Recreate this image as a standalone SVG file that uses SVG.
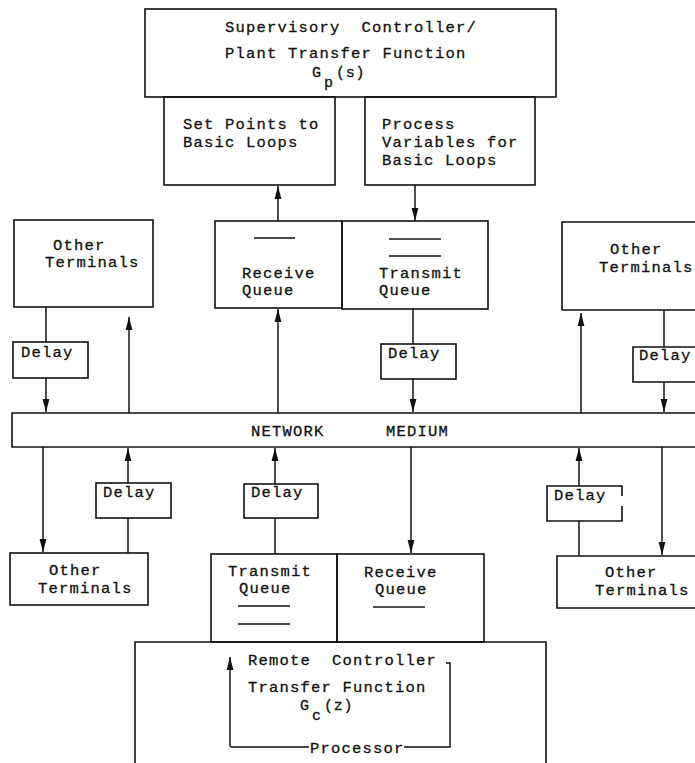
<svg xmlns="http://www.w3.org/2000/svg" width="695" height="763" viewBox="0 0 695 763">
<style>
.b{fill:none;stroke:#111;stroke-width:1.6}
.t{font-family:"Liberation Mono","Courier New",monospace;font-size:15.5px;letter-spacing:1.2px;fill:#111;stroke:#111;stroke-width:0.3}
.s{font-size:15px;letter-spacing:0.8px}
.c{fill:none;stroke:#111;stroke-width:1.5}
.a{marker-end:url(#ah)}
</style>
<defs>
<marker id="ah" markerUnits="userSpaceOnUse" markerWidth="14" markerHeight="8" viewBox="0 0 14 8" refX="13" refY="4" orient="auto">
<path d="M0,0.6 L13,4 L0,7.4 Z" fill="#111"/>
</marker>
</defs>
<rect width="695" height="763" fill="#fff"/>

<g id="supervisory">
<rect class="b" x="145" y="9" width="411" height="88"/>
<text class="t" x="225" y="32" xml:space="preserve">Supervisory  Controller/</text>
<text class="t" x="225" y="58">Plant Transfer Function</text>
<text class="t s" x="312" y="77">G</text>
<text class="t s" x="324" y="87">p</text>
<text class="t s" x="336" y="77">(s)</text>
</g>
<g id="setpoints">
<rect class="b" x="164" y="97" width="171" height="88"/>
<text class="t" x="183" y="129">Set Points to</text>
<text class="t" x="183" y="147">Basic Loops</text>
</g>
<g id="processvars">
<rect class="b" x="365" y="97" width="170" height="88"/>
<text class="t" x="382" y="129">Process</text>
<text class="t" x="382" y="147">Variables for</text>
<text class="t" x="382" y="165">Basic Loops</text>
</g>

<g id="other-ul">
<rect class="b" x="14" y="220" width="139" height="87"/>
<text class="t" x="53" y="250">Other</text>
<text class="t" x="45" y="267">Terminals</text>
</g>
<g id="receive-upper">
<rect class="b" x="215" y="221" width="127" height="87"/>
<line class="c" x1="254" y1="238" x2="295" y2="238"/>
<text class="t" x="242" y="278">Receive</text>
<text class="t" x="242" y="295">Queue</text>
</g>
<g id="transmit-upper">
<rect class="b" x="342" y="221" width="146" height="88"/>
<line class="c" x1="389" y1="239" x2="441" y2="239"/>
<line class="c" x1="389" y1="256" x2="441" y2="256"/>
<text class="t" x="379" y="278">Transmit</text>
<text class="t" x="379" y="295">Queue</text>
</g>
<g id="other-ur">
<path class="b" d="M700,222 L562,222 L562,310 L700,310"/>
<text class="t" x="610" y="254">Other</text>
<text class="t" x="599" y="272">Terminals</text>
</g>
<g id="delay-ul">
<rect class="b" x="13" y="342" width="75" height="36"/>
<text class="t" x="21" y="357">Delay</text>
</g>
<g id="delay-um">
<rect class="b" x="381" y="344" width="75" height="35"/>
<text class="t" x="388" y="358">Delay</text>
</g>
<g id="delay-ur">
<path class="b" d="M700,347 L633,347 L633,382 L700,382"/>
<text class="t" x="639" y="360">Delay</text>
</g>

<g id="network">
<path class="b" d="M700,413 L12,413 L12,447 L700,447"/>
<text class="t" x="251" y="436">NETWORK</text>
<text class="t" x="386" y="436">MEDIUM</text>
</g>

<g id="delay-ll">
<rect class="b" x="96" y="483" width="75" height="35"/>
<text class="t" x="103" y="497">Delay</text>
</g>
<g id="delay-lm">
<rect class="b" x="244" y="484" width="74" height="34"/>
<text class="t" x="251" y="497">Delay</text>
</g>
<g id="delay-lr">
<path class="b" d="M622,496 L622,486 L547,486 L547,521 L622,521 L622,506"/>
<text class="t" x="554" y="500">Delay</text>
</g>
<g id="other-ll">
<rect class="b" x="10" y="553" width="138" height="52"/>
<text class="t" x="49" y="575">Other</text>
<text class="t" x="38" y="593">Terminals</text>
</g>
<g id="transmit-lower">
<rect class="b" x="211" y="554" width="126" height="88"/>
<text class="t" x="228" y="576">Transmit</text>
<text class="t" x="239" y="593">Queue</text>
<line class="c" x1="238" y1="606" x2="290" y2="606"/>
<line class="c" x1="238" y1="624" x2="290" y2="624"/>
</g>
<g id="receive-lower">
<rect class="b" x="337" y="554" width="147" height="88"/>
<text class="t" x="364" y="577">Receive</text>
<text class="t" x="375" y="594">Queue</text>
<line class="c" x1="373" y1="607" x2="425" y2="607"/>
</g>
<g id="other-lr">
<path class="b" d="M700,556 L557,556 L557,608 L700,608"/>
<text class="t" x="605" y="577">Other</text>
<text class="t" x="595" y="595">Terminals</text>
</g>

<g id="processor">
<path class="b" d="M135,770 L135,642 L546,642 L546,770"/>
<text class="t" x="248" y="665" xml:space="preserve">Remote  Controller</text>
<text class="t" x="248" y="692">Transfer Function</text>
<text class="t s" x="300" y="710">G</text>
<text class="t s" x="312" y="720">c</text>
<text class="t s" x="324" y="710">(z)</text>
<text class="t" x="310" y="753">Processor</text>
<path class="c" d="M446,663 L450,663 L450,747 L404,747"/>
<path class="c a" d="M309,747 L232,747 Q230,747 230,745 L230,657"/>
</g>

<g id="connectors">
<line class="c a" x1="278" y1="221" x2="278" y2="186"/>
<line class="c a" x1="415" y1="185" x2="415" y2="221"/>
<line class="c" x1="46" y1="307" x2="46" y2="342"/>
<line class="c a" x1="46" y1="378" x2="46" y2="412"/>
<line class="c a" x1="129" y1="413" x2="129" y2="317"/>
<line class="c a" x1="278" y1="413" x2="278" y2="309"/>
<line class="c" x1="413" y1="309" x2="413" y2="344"/>
<line class="c a" x1="413" y1="379" x2="413" y2="412"/>
<line class="c a" x1="581" y1="413" x2="581" y2="313"/>
<line class="c" x1="664" y1="310" x2="664" y2="347"/>
<line class="c a" x1="664" y1="382" x2="664" y2="412"/>
<line class="c a" x1="43" y1="447" x2="43" y2="552"/>
<line class="c" x1="128" y1="553" x2="128" y2="518"/>
<line class="c a" x1="128" y1="483" x2="128" y2="448"/>
<line class="c" x1="275" y1="554" x2="275" y2="518"/>
<line class="c a" x1="275" y1="484" x2="275" y2="448"/>
<line class="c a" x1="411" y1="447" x2="411" y2="553"/>
<line class="c" x1="579" y1="556" x2="579" y2="521"/>
<line class="c a" x1="579" y1="486" x2="579" y2="448"/>
<line class="c a" x1="662" y1="447" x2="662" y2="555"/>
</g>
</svg>
